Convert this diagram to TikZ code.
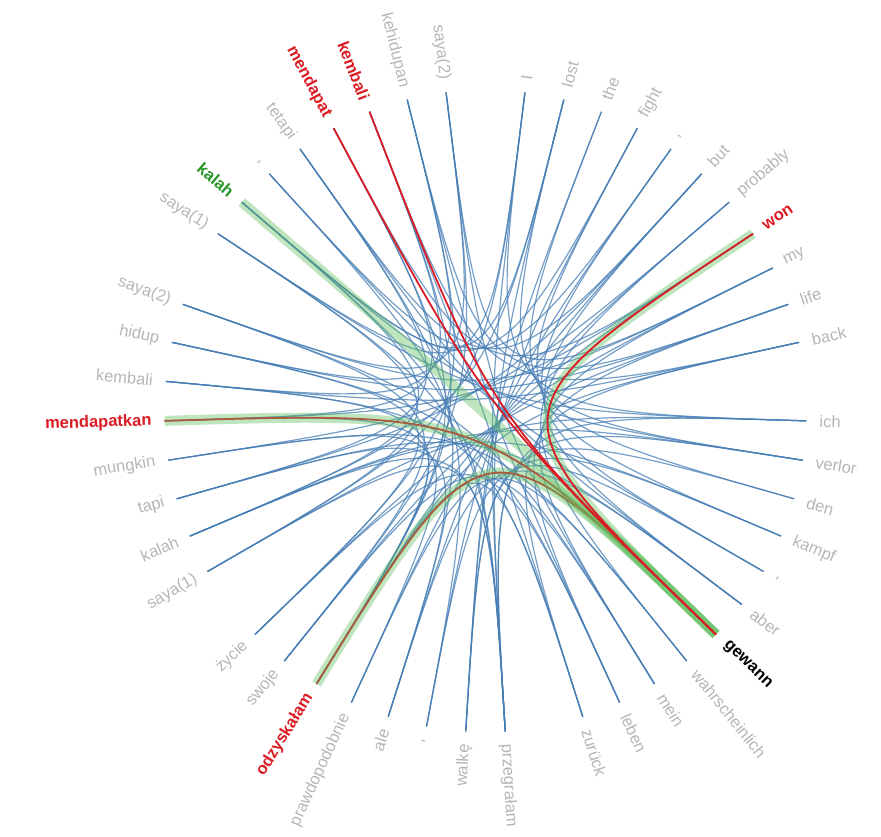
\documentclass[tikz,border=0pt]{standalone}
\usepackage{fontspec}
\setmainfont{Liberation Sans}
\definecolor{linkblue}{RGB}{70,125,180}
\definecolor{lblgray}{RGB}{182,182,182}
\definecolor{hlred}{RGB}{218,28,36}
\definecolor{hlgreen}{RGB}{40,150,40}
\definecolor{bandgreen}{RGB}{95,190,95}
\tikzset{
	wordlink/.style={linkblue, line width=1.2pt, opacity=0.75},
	redlink/.style={hlred, line width=1.8pt},
	greenband/.style={bandgreen, line width=10pt, opacity=0.4},
	wordlbl/.style={lblgray, inner sep=0pt, font=\fontsize{16.5}{18}\selectfont},
	redlbl/.style={wordlbl, text=hlred, font=\fontsize{16.5}{18}\selectfont\bfseries},
	greenlbl/.style={wordlbl, text=hlgreen, font=\fontsize{16.5}{18}\selectfont\bfseries},
	focuslbl/.style={wordlbl, text=black, font=\fontsize{16.5}{18}\selectfont\bfseries}
}
\begin{document}
\begin{tikzpicture}[x=1pt,y=1pt]
	\useasboundingbox (-485.5,-426) rectangle (395.5,411);
	\coordinate (O) at (0,0);
	\foreach \k/\nm/\txt/\sty in {
		0/enI/I/wordlbl, 1/enLost/lost/wordlbl, 2/enThe/the/wordlbl, 3/enFight/fight/wordlbl,
		4/enCom/{,}/wordlbl, 5/enBut/but/wordlbl, 6/enProb/probably/wordlbl, 7/enWon/won/redlbl,
		8/enMy/my/wordlbl, 9/enLife/life/wordlbl, 10/enBack/back/wordlbl,
		12/deIch/ich/wordlbl, 13/deVerlor/verlor/wordlbl, 14/deDen/den/wordlbl, 15/deKampf/kampf/wordlbl,
		16/deCom/{,}/wordlbl, 17/deAber/aber/wordlbl, 18/deGewann/gewann/focuslbl,
		19/deWahr/wahrscheinlich/wordlbl, 20/deMein/mein/wordlbl, 21/deLeben/leben/wordlbl, 22/deZur/zurück/wordlbl,
		24/plPrzeg/przegrałam/wordlbl, 25/plWalke/walkę/wordlbl, 26/plCom/{,}/wordlbl, 27/plAle/ale/wordlbl,
		28/plPraw/prawdopodobnie/wordlbl, 29/plOdz/odzyskałam/redlbl, 30/plSwoje/swoje/wordlbl, 31/plZycie/życie/wordlbl,
		33/iaSaya/saya(1)/wordlbl, 34/iaKalah/kalah/wordlbl, 35/iaTapi/tapi/wordlbl, 36/iaMungkin/mungkin/wordlbl,
		37/iaMendapatkan/mendapatkan/redlbl, 38/iaKembali/kembali/wordlbl, 39/iaHidup/hidup/wordlbl, 40/iaSaya2/saya(2)/wordlbl,
		42/ibSaya/saya(1)/wordlbl, 43/ibKalah/kalah/greenlbl, 44/ibCom/{,}/wordlbl, 45/ibTetapi/tetapi/wordlbl,
		46/ibMendapat/mendapat/redlbl, 47/ibKembali/kembali/redlbl, 48/ibKehidupan/kehidupan/wordlbl, 49/ibSaya2/saya(2)/wordlbl}{
		\pgfmathsetmacro\ang{90-(\k+1)*(360/51)}
		\pgfmathsetmacro\rot{\ang+180}
		\coordinate (\nm) at (\ang:321);
		\ifdim\ang pt<-90pt
			\node[\sty, anchor=east, rotate=\rot] (\nm-lbl) at (\ang:334) {\txt};
		\else
			\node[\sty, anchor=west, rotate=\ang] (\nm-lbl) at (\ang:334) {\txt};
		\fi
	}
	\foreach \a/\b in {
		enI/deIch, enI/plPrzeg, enI/iaSaya, enI/ibSaya, deIch/plPrzeg, deIch/iaSaya, deIch/ibSaya, plPrzeg/iaSaya, plPrzeg/ibSaya, iaSaya/ibSaya,
		enLost/deVerlor, enLost/plPrzeg, enLost/iaKalah, enLost/ibKalah, deVerlor/plPrzeg, deVerlor/iaKalah, deVerlor/ibKalah, plPrzeg/iaKalah, plPrzeg/ibKalah, iaKalah/ibKalah,
		enThe/deDen, enThe/plWalke, deDen/plWalke,
		enFight/deKampf, enFight/plWalke, deKampf/plWalke, enFight/ibKalah, deKampf/iaKalah,
		enCom/deCom, enCom/plCom, enCom/ibCom, deCom/plCom, deCom/ibCom, plCom/ibCom,
		enBut/deAber, enBut/plAle, enBut/iaTapi, enBut/ibTetapi, deAber/plAle, deAber/iaTapi, deAber/ibTetapi, plAle/iaTapi, plAle/ibTetapi, iaTapi/ibTetapi,
		enProb/deWahr, enProb/plPraw, enProb/iaMungkin, deWahr/plPraw, deWahr/iaMungkin, plPraw/iaMungkin,
		enWon/plOdz, enWon/iaMendapatkan, enWon/ibMendapat, plOdz/iaMendapatkan, plOdz/ibMendapat, iaMendapatkan/ibMendapat,
		enMy/deMein, enMy/plSwoje, enMy/iaSaya2, enMy/ibSaya2, deMein/plSwoje, deMein/iaSaya2, deMein/ibSaya2, plSwoje/iaSaya2, plSwoje/ibSaya2, iaSaya2/ibSaya2,
		enLife/deLeben, enLife/plZycie, enLife/iaHidup, enLife/ibKehidupan, deLeben/plZycie, deLeben/iaHidup, deLeben/ibKehidupan, plZycie/iaHidup, plZycie/ibKehidupan, iaHidup/ibKehidupan,
		enBack/deZur, enBack/plOdz, enBack/iaKembali, enBack/ibKembali, deZur/plOdz, deZur/iaKembali, deZur/ibKembali, plOdz/iaKembali, plOdz/ibKembali, iaKembali/ibKembali}
		\draw[wordlink] (\a) .. controls (O) and (O) .. (\b);
	\foreach \a in {iaMendapatkan, plOdz}
		\draw[redlink] (\a) .. controls (O) and (O) .. (deGewann);
	\foreach \a in {ibKalah, iaMendapatkan, enWon, plOdz}
		\draw[greenband] (\a) .. controls (O) and (O) .. (deGewann);
	\foreach \a in {enWon, ibMendapat, ibKembali}
		\draw[redlink] (\a) .. controls (O) and (O) .. (deGewann);
\end{tikzpicture}
\end{document}
